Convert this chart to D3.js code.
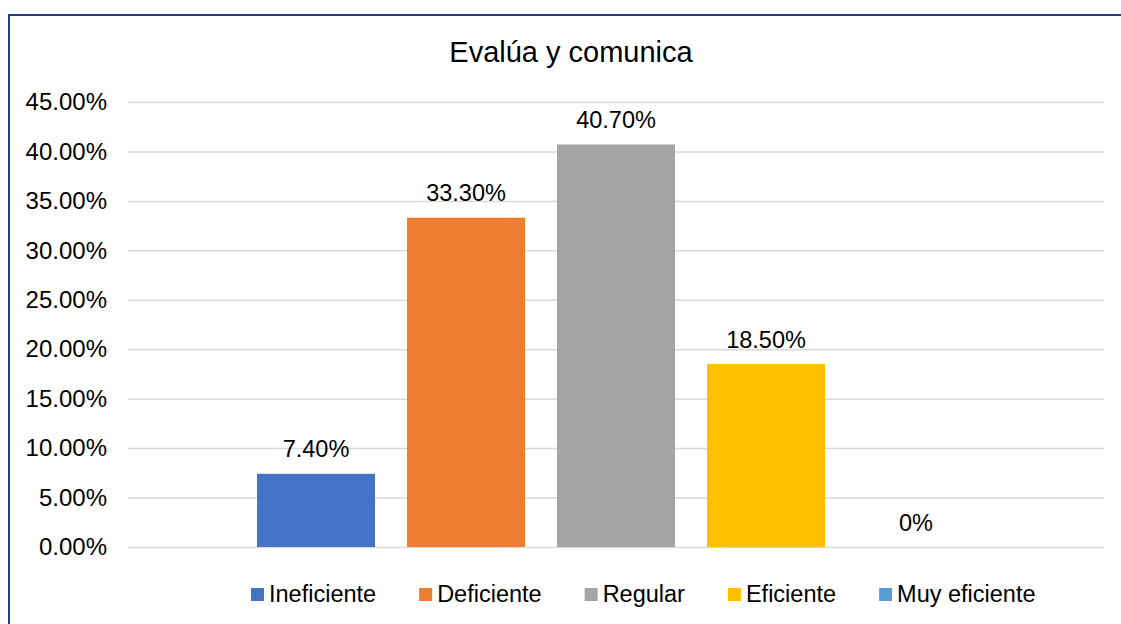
<!DOCTYPE html>
<html>
<head>
<meta charset="utf-8">
<script src="https://cdn.jsdelivr.net/npm/d3@7"></script>
<style>
	html, body { margin: 0; padding: 0; background: #fff; }
	svg { display: block; font-family: "Liberation Sans", Arial, sans-serif; }
</style>
</head>
<body>
<svg id="chart"></svg>
<script>
;(() => {
	'use strict';

	// chart data
	const chartTitle = 'Evalúa y comunica';
	const categories = ['Ineficiente', 'Deficiente', 'Regular', 'Eficiente', 'Muy eficiente'];
	const values = [7.4, 33.3, 40.7, 18.5, 0];
	const valueLabels = ['7.40%', '33.30%', '40.70%', '18.50%', '0%'];
	const colors = ['#4472c4', '#ed7d31', '#a5a5a5', '#ffc000', '#5b9bd5'];
	const yTicks = [0, 5, 10, 15, 20, 25, 30, 35, 40, 45];

	const width = 1121,
		height = 624,
		plot = { left: 128, right: 1104, top: 102, bottom: 547 };

	const svg = d3.select('#chart')
		.attr('width', width)
		.attr('height', height);

	// outer frame (runs past the right and bottom edges)
	svg.append('rect')
		.attr('x', 9).attr('y', 15)
		.attr('width', 1200).attr('height', 700)
		.attr('fill', 'none')
		.attr('stroke', '#1f3f86')
		.attr('stroke-width', 2);

	const y = d3.scaleLinear().domain([0, 45]).range([plot.bottom, plot.top]);

	// bars sit in a centred group inside the plot area
	const x = d3.scaleBand()
		.domain(categories)
		.range([257, 975])
		.paddingInner(0.2133)
		.paddingOuter(0);

	// y axis + gridlines
	const yAxis = d3.axisLeft(y)
		.tickValues(yTicks)
		.tickFormat((d) => d.toFixed(2) + '%')
		.tickSize(-(plot.right - plot.left))
		.tickPadding(21);

	const axisG = svg.append('g')
		.attr('transform', `translate(${plot.left},0)`)
		.call(yAxis);

	axisG.select('.domain').remove();
	axisG.selectAll('.tick line')
		.attr('stroke', '#d9d9d9')
		.attr('stroke-width', 1.5);
	axisG.selectAll('.tick text')
		.attr('fill', '#000')
		.style('font-size', '24px')
		.style('font-family', '"Liberation Sans", Arial, sans-serif');

	// bars
	svg.append('g').selectAll('rect')
		.data(categories)
		.join('rect')
		.attr('x', (d) => x(d))
		.attr('y', (d, i) => y(values[i]))
		.attr('width', x.bandwidth())
		.attr('height', (d, i) => y(0) - y(values[i]))
		.attr('fill', (d, i) => colors[i]);

	// value labels
	svg.append('g').selectAll('text')
		.data(categories)
		.join('text')
		.attr('x', (d) => x(d) + x.bandwidth() / 2)
		.attr('y', (d, i) => y(values[i]) - 16.5)
		.attr('text-anchor', 'middle')
		.attr('fill', '#000')
		.style('font-size', '23.5px')
		.text((d, i) => valueLabels[i]);

	// title
	svg.append('text')
		.attr('x', 571)
		.attr('y', 62)
		.attr('text-anchor', 'middle')
		.attr('fill', '#000')
		.style('font-size', '29px')
		.text(chartTitle);

	// legend, laid out left to right from measured text widths
	const legend = svg.append('g');
	let lx = 251;
	categories.forEach((c, i) => {
		legend.append('rect')
			.attr('x', lx).attr('y', 588)
			.attr('width', 13).attr('height', 13)
			.attr('fill', colors[i]);
		const t = legend.append('text')
			.attr('x', lx + 18)
			.attr('y', 602)
			.attr('fill', '#000')
			.style('font-size', '23.5px')
			.text(c);
		lx += 18 + t.node().getComputedTextLength() + 43;
	});

})();
</script>
</body>
</html>
